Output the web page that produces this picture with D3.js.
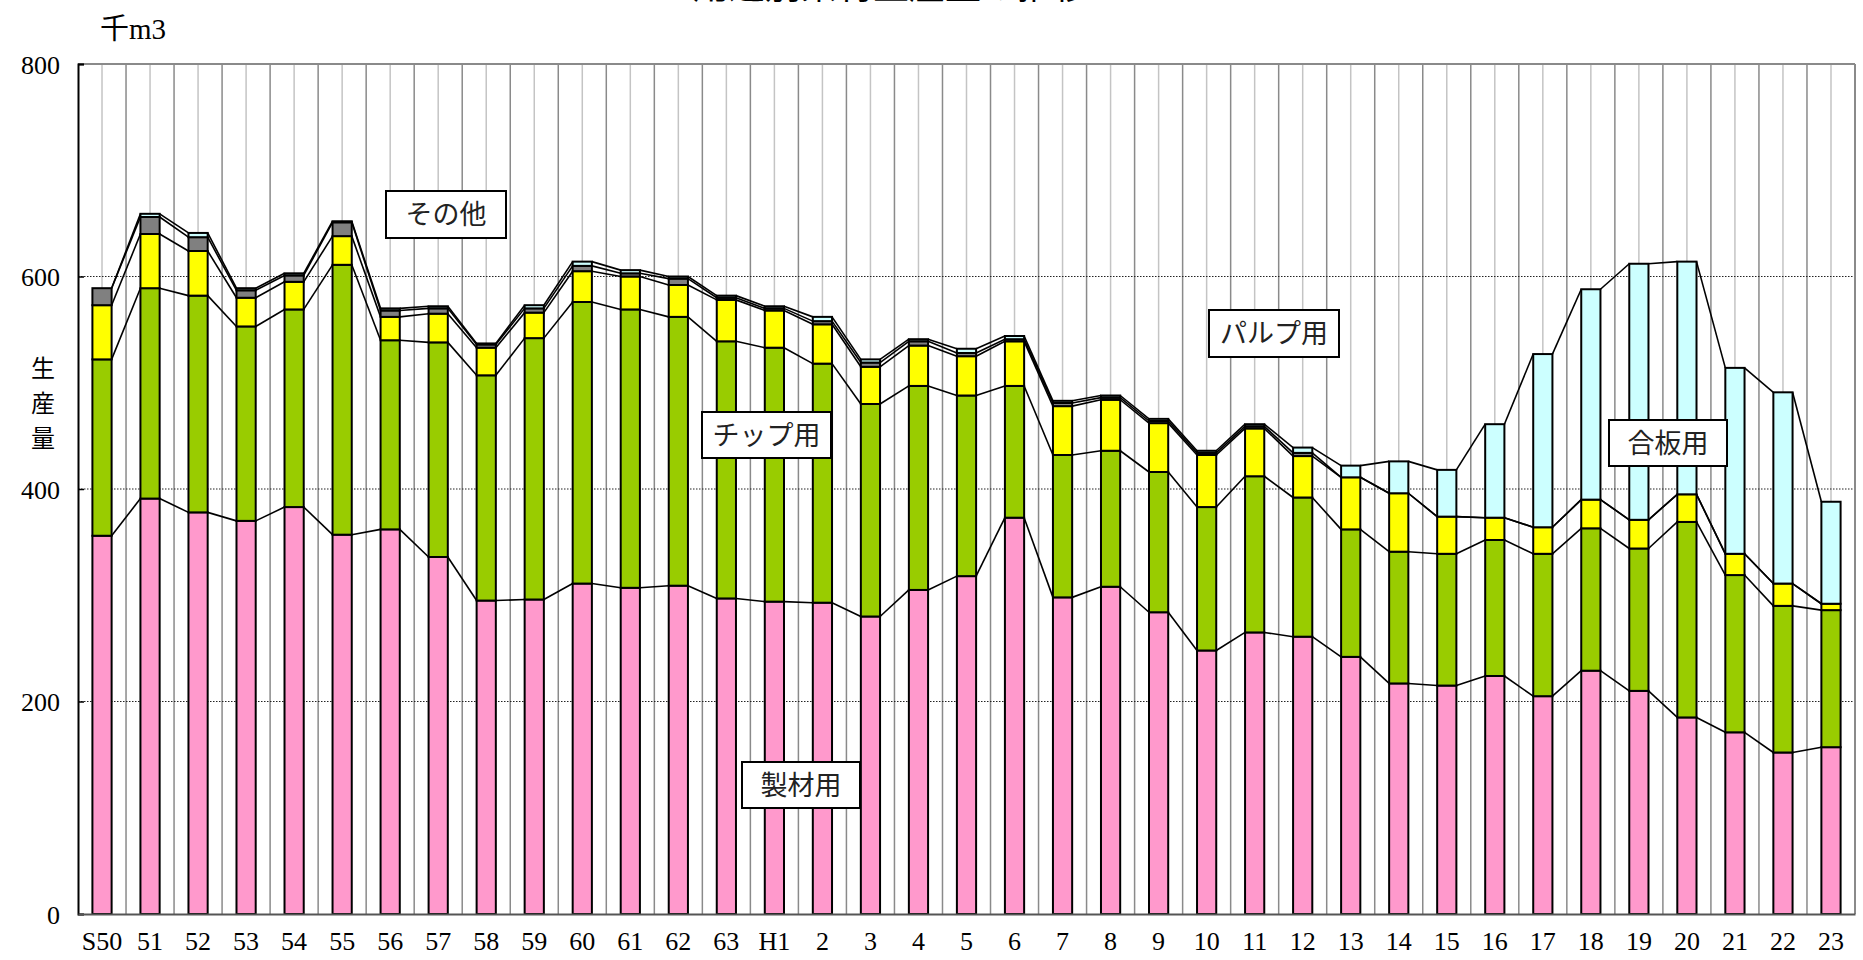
<!DOCTYPE html>
<html>
<head>
<meta charset="utf-8">
<script src="https://cdn.jsdelivr.net/npm/d3@7"></script>
<style>
  body { margin: 0; background: #fff; }
  svg { display: block; font-family: 'Liberation Serif', 'Noto Sans CJK JP', serif; }
  .tick-label { font-size: 26px; fill: #000; }
  .jp { font-family: 'Noto Sans CJK JP', sans-serif; }
</style>
</head>
<body>
<svg width="1863" height="960"></svg>
<script>
const categories = ['S50','51','52','53','54','55','56','57','58','59','60','61','62','63',
  'H1','2','3','4','5','6','7','8','9','10','11','12','13','14','15','16','17','18','19','20','21','22','23'];

// 千m3
const seizai = [356,391,378,370,383,357,362,336,295,296,311,307,309,297,
  294,293,280,305,318,373,298,308,284,248,265,261,242,217,215,224,205,229,210,185,171,152,157];
const chip = [166,198,204,183,186,254,178,202,212,246,265,262,253,242,
  239,225,200,192,170,124,134,128,132,135,147,131,120,124,124,128,134,134,134,184,148,138,129];
const pulp = [51,51,42,27,26,27,22,27,26,24,29,31,30,39,
  35,37,35,38,37,42,46,48,46,49,45,39,49,55,35,21,25,27,27,26,20,21,6];
const sonota = [16,16,13,7,6,13,6,5,3,4,5,3,6,2,
  2,3,4,4,3,2,3,2,2,2,2,3,0,0,0,0,0,0,0,0,0,0,0];
const goban = [0,3,4,2,2,1,2,2,1,3,4,3,2,2,
  2,4,3,2,4,3,2,2,2,2,2,5,11,30,44,88,163,198,241,219,175,180,96];

const yTicks = [0, 200, 400, 600, 800];
const keys = ['seizai', 'chip', 'pulp', 'sonota', 'goban'];
const colors = { seizai: '#ff99cc', chip: '#99cc00', pulp: '#ffff00', sonota: '#808080', goban: '#ccffff' };

const title = '用途別素材生産量の推移';
const unitLabel = '千m3';
const yAxisLabel = ['生', '産', '量'];
const seriesLabels = ['その他', 'チップ用', 'パルプ用', '合板用', '製材用'];

const svg = d3.select('svg');
const width = +svg.attr('width');
const height = +svg.attr('height');

const plot = { left: 78, right: 1855, top: 64, bottom: 914 };

const data = categories.map((c, i) => ({
  cat: c, seizai: seizai[i], chip: chip[i], pulp: pulp[i], sonota: sonota[i], goban: goban[i]
}));

const xScale = d3.scaleBand()
  .domain(categories)
  .range([plot.left, plot.right])
  .paddingInner(0.6)
  .paddingOuter(0.3);

const yScale = d3.scaleLinear()
  .domain([0, 800])
  .range([plot.bottom, plot.top]);

const step = xScale.step();
const bw = xScale.bandwidth();

// vertical grid: category boundaries (dark) and centres (light)
const g = svg.append('g');
categories.forEach((c, i) => {
  const x0 = plot.left + i * step;
  if (i > 0) {
    g.append('line').attr('x1', x0).attr('x2', x0).attr('y1', plot.top).attr('y2', plot.bottom)
      .attr('stroke', '#8a8a8a').attr('stroke-width', 1.5);
  }
  g.append('line').attr('x1', x0 + step / 2).attr('x2', x0 + step / 2).attr('y1', plot.top).attr('y2', plot.bottom)
    .attr('stroke', '#c4c4c4').attr('stroke-width', 1.5);
});

// horizontal dotted grid
g.selectAll('.hgrid').data(yTicks.filter(d => d > 0 && d < 800))
  .enter().append('line')
  .attr('x1', plot.left).attr('x2', plot.right)
  .attr('y1', d => yScale(d)).attr('y2', d => yScale(d))
  .attr('stroke', '#222').attr('stroke-width', 1)
  .attr('stroke-dasharray', '1.5,1.5');

// frame (top/right gray)
g.append('line').attr('x1', plot.left).attr('x2', plot.right).attr('y1', plot.top).attr('y2', plot.top)
  .attr('stroke', '#8a8a8a').attr('stroke-width', 2);
g.append('line').attr('x1', plot.right).attr('x2', plot.right).attr('y1', plot.top).attr('y2', plot.bottom)
  .attr('stroke', '#8a8a8a').attr('stroke-width', 2);

const stacked = d3.stack().keys(keys)(data);

// series lines between bars
const series = svg.append('g');
stacked.forEach(layer => {
  for (let i = 0; i < layer.length - 1; i++) {
    series.append('line')
      .attr('x1', xScale(categories[i]) + bw)
      .attr('y1', yScale(layer[i][1]))
      .attr('x2', xScale(categories[i + 1]))
      .attr('y2', yScale(layer[i + 1][1]))
      .attr('stroke', '#000').attr('stroke-width', 1.6);
  }
});

// bars
const bars = svg.append('g');
stacked.forEach(layer => {
  bars.selectAll(null).data(layer)
    .enter().append('rect')
    .attr('x', d => xScale(d.data.cat))
    .attr('width', bw)
    .attr('y', d => yScale(d[1]))
    .attr('height', d => yScale(d[0]) - yScale(d[1]))
    .attr('fill', colors[layer.key])
    .attr('stroke', '#000')
    .attr('stroke-width', 2);
});

// axes
const yAxis = d3.axisLeft(yScale).tickValues(yTicks).tickSize(-6).tickPadding(18);
const yAxisGroup = svg.append('g').attr('transform', `translate(${plot.left},0)`).call(yAxis)
  .attr('font-family', null).attr('font-size', null);
yAxisGroup.select('.domain').attr('stroke', '#000').attr('stroke-width', 2);
yAxisGroup.selectAll('.tick line').attr('stroke', '#000').attr('stroke-width', 1.5);
yAxisGroup.selectAll('text').attr('class', 'tick-label').attr('dy', '0.35em');

const xAxis = d3.axisBottom(xScale).tickSize(0).tickPadding(18);
const xAxisGroup = svg.append('g').attr('transform', `translate(0,${plot.bottom})`).call(xAxis)
  .attr('font-family', null).attr('font-size', null);
xAxisGroup.select('.domain').attr('stroke', '#555').attr('stroke-width', 2);
xAxisGroup.selectAll('text').attr('class', 'tick-label');

// title (clipped at top, as in the source image)
svg.append('text')
  .attr('class', 'jp')
  .attr('x', 891).attr('y', -1)
  .attr('text-anchor', 'middle')
  .attr('font-size', 36)
  .text(title);

svg.append('text')
  .attr('x', 100).attr('y', 39)
  .attr('font-size', 29)
  .text(unitLabel);

svg.selectAll('.ylab').data(yAxisLabel)
  .enter().append('text')
  .attr('class', 'jp')
  .attr('x', 43)
  .attr('y', (d, i) => 377 + i * 35)
  .attr('text-anchor', 'middle')
  .attr('font-size', 24)
  .text(d => d);

// label boxes
const boxPos = [
  [386, 191, 120, 47],
  [702, 412, 129, 46],
  [1209, 310, 130, 47],
  [1609, 420, 118, 46],
  [742, 762, 118, 46]
];
const boxes = svg.append('g');
seriesLabels.forEach((t, i) => {
  const [bx, by, bwid, bh] = boxPos[i];
  boxes.append('rect')
    .attr('x', bx).attr('y', by).attr('width', bwid).attr('height', bh)
    .attr('fill', '#fff').attr('stroke', '#000').attr('stroke-width', 2);
  boxes.append('text')
    .attr('class', 'jp')
    .attr('x', bx + bwid / 2).attr('y', by + bh / 2)
    .attr('dy', '0.36em')
    .attr('text-anchor', 'middle')
    .attr('font-size', 27)
    .attr('fill', '#222')
    .text(t);
});
</script>
</body>
</html>
